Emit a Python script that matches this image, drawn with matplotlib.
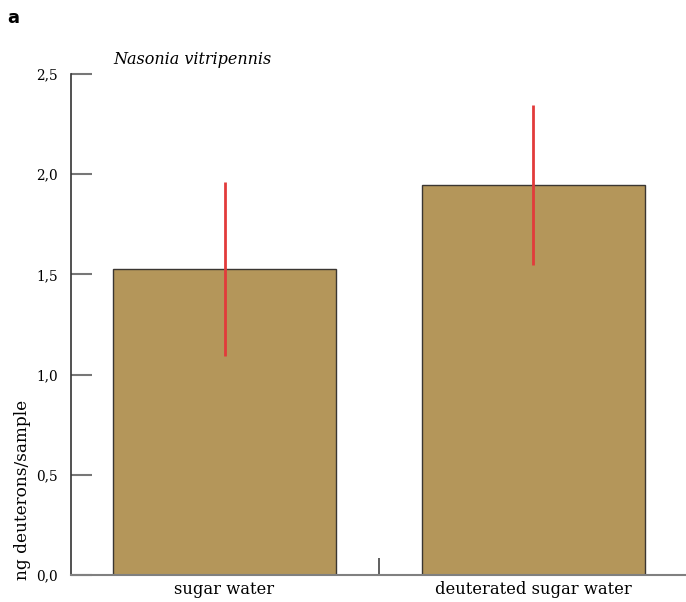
import matplotlib
matplotlib.use("Agg")
import matplotlib.pyplot as plt
from matplotlib.ticker import FuncFormatter, FixedLocator

categories = ["sugar water", "deuterated sugar water"]
means = [1.527, 1.946]
errors = [0.435, 0.40]
yticks = [0.0, 0.5, 1.0, 1.5, 2.0, 2.5]

serif = "DejaVu Serif"

fig = plt.figure(figsize=(6.86, 6.02), dpi=100)
ax = fig.add_axes([71/686, 27/602, 1 - 71/686, (575-74)/602])

x = list(range(len(categories)))
ax.bar(x, means, width=0.722, color="#b4965a", edgecolor="#3a3632", linewidth=1.0, zorder=2)
ax.errorbar(x, means, yerr=errors, fmt="none", ecolor="#e23b3b", elinewidth=2.0, capsize=0, zorder=3)

ax.set_xlim(-0.497, 1.494)
ax.set_ylim(0, 2.5)

for s in ["top", "right"]:
    ax.spines[s].set_visible(False)
ax.spines["left"].set_color("#333333")
ax.spines["left"].set_linewidth(1.2)
ax.spines["bottom"].set_color("#808080")
ax.spines["bottom"].set_linewidth(1.5)

ax.set_yticks(yticks)
ax.yaxis.set_major_formatter(FuncFormatter(lambda v, p: f"{v:.1f}".replace(".", ",")))
ax.tick_params(axis="y", direction="in", length=15, width=1.5, color="#777777", pad=9.5,
               labelsize=9.8)
for lab in ax.get_yticklabels():
    lab.set_fontfamily(serif)

ax.set_xticks(x)
ax.set_xticklabels(categories, fontfamily=serif, fontsize=11.8)
ax.tick_params(axis="x", which="major", length=0, pad=4)
ax.xaxis.set_minor_locator(FixedLocator([0.5]))
ax.tick_params(axis="x", which="minor", direction="in", length=12, width=1.2, color="#444444")

ax.set_ylabel("ng deuterons/sample", fontfamily=serif, fontsize=12.2, loc="bottom")
ax.yaxis.set_label_coords((31 - 71) / 615, -5/501)

fig.text(113/686, 1 - 60/602, "Nasonia vitripennis", fontfamily=serif, style="italic",
         fontsize=11.5, va="center", ha="left")
fig.text(7/686, 1 - 18/602, "a", fontfamily="DejaVu Sans", fontweight="bold", fontsize=13,
         va="center", ha="left")

fig.savefig("out.png", dpi=100)
